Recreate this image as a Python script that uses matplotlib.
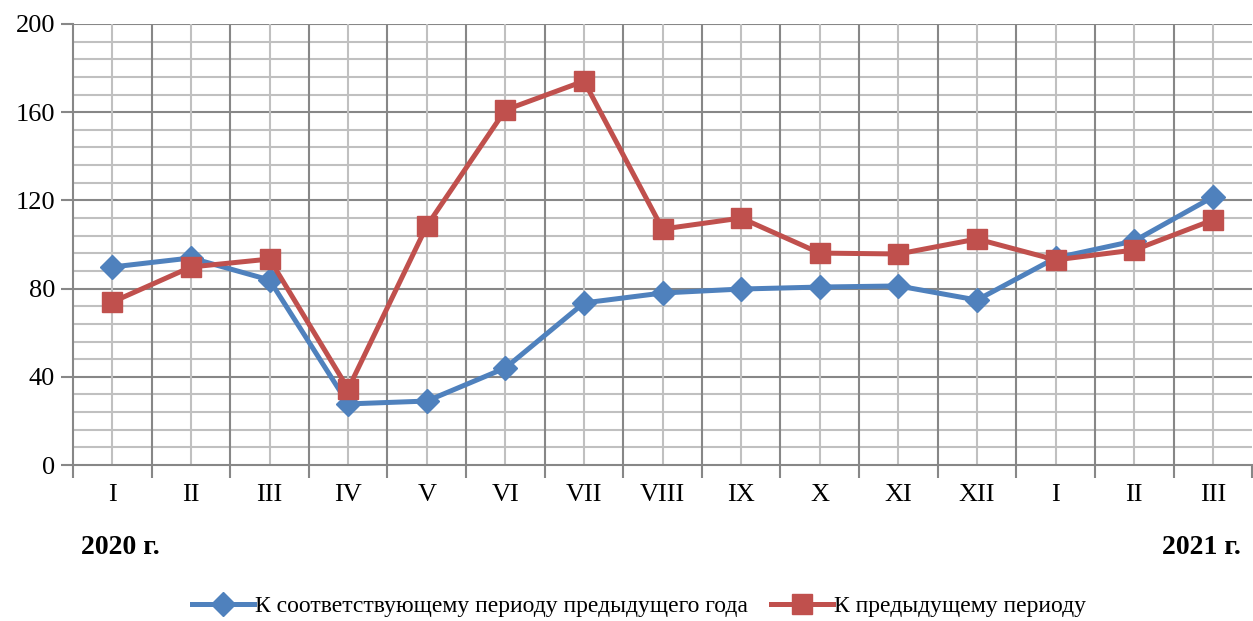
import matplotlib.pyplot as plt
import numpy as np

plt.rcParams['font.family'] = ['Liberation Serif', 'DejaVu Serif']

months = ['I', 'II', 'III', 'IV', 'V', 'VI', 'VII', 'VIII', 'IX', 'X', 'XI', 'XII', 'I', 'II', 'III']
# К соответствующему периоду предыдущего года
yoy = [89.8, 93.9, 83.9, 27.7, 29.0, 44.0, 73.5, 78.0, 79.8, 80.7, 81.2, 74.8, 93.9, 101.6, 121.5]
# К предыдущему периоду
mom = [73.9, 89.8, 93.4, 34.5, 108.4, 161.0, 174.1, 107.0, 112.0, 96.1, 95.7, 102.5, 93.0, 97.5, 111.1]

blue = '#4F81BD'
red = '#C0504D'

fig = plt.figure(figsize=(12.53, 6.21), dpi=100)
ax = fig.add_axes([0.0583, 0.2512, 0.941, 0.7102])

x = np.arange(len(months))
ax.plot(x, yoy, color=blue, lw=3.6, marker='D', ms=12, zorder=3,
        label='К соответствующему периоду предыдущего года')
ax.plot(x, mom, color=red, lw=3.6, marker='s', ms=14, zorder=4,
        label='К предыдущему периоду')

ax.set_xlim(-0.5, len(months) - 0.5)
ax.set_ylim(0, 200)

# сетка
for v in np.arange(8, 200, 8):
    if v % 40:
        ax.axhline(v, color='#C0C0C0', lw=1.5, zorder=1)
for v in np.arange(40, 201, 40):
    ax.axhline(v, color='#878787', lw=1.5, zorder=1)
for c in x:
    ax.axvline(c, color='#C0C0C0', lw=1.5, zorder=1)
for b in np.arange(0.5, len(months) - 0.5, 1):
    ax.axvline(b, color='#878787', lw=1.5, zorder=1)

ax.set_yticks(np.arange(0, 201, 40))
ax.set_xticks(x)
ax.set_xticklabels(months)
ax.set_xticks(np.arange(-0.5, len(months), 1), minor=True)
ax.tick_params(axis='x', which='major', length=0, pad=14, labelsize=19)
ax.tick_params(axis='x', which='minor', length=9, width=1.5, color='#878787')
ax.tick_params(axis='y', length=9, width=1.5, color='#878787', pad=4, labelsize=19)

for s in ['top', 'right']:
    ax.spines[s].set_visible(False)
for s in ['left', 'bottom']:
    ax.spines[s].set_color('#878787')
    ax.spines[s].set_linewidth(1.5)

fig.text(0.065, 0.118, '2020 г.', fontsize=20, fontweight='bold', ha='left', va='center')
fig.text(0.99, 0.118, '2021 г.', fontsize=20, fontweight='bold', ha='right', va='center')

fig.legend(loc='center', bbox_to_anchor=(0.51, 0.024), ncol=2, frameon=False,
           fontsize=17, handlelength=2.6, handletextpad=0.05, columnspacing=1.0)

plt.savefig('out.png')
